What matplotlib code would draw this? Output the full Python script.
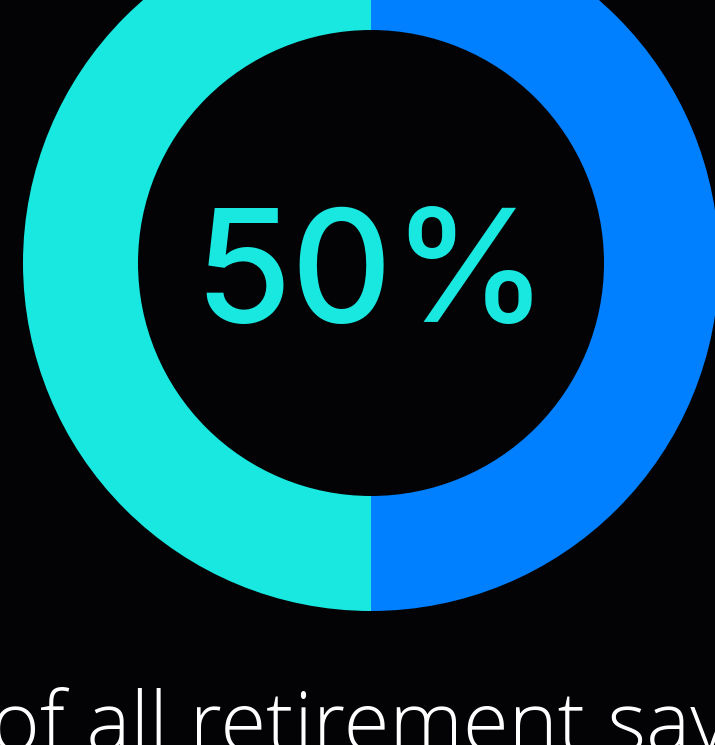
import matplotlib
matplotlib.use("Agg")
import matplotlib.pyplot as plt

# donut shares (right half first, clockwise from top)
labels = ["Other", "Share"]
values = [50, 50]
colors = ["#0080FF", "#19E8E0"]
center_label = "50%"
caption = "of all retirement savings"

W, H = 715, 745
fig = plt.figure(figsize=(W / 100, H / 100), dpi=100, facecolor="#030306")
ax = fig.add_axes([0, 0, 1, 1])
ax.set_facecolor("#030306")

cx, cy = 371, H - 263
ax.pie(values, colors=colors, startangle=90, counterclock=False,
       center=(cx, cy), radius=348,
       wedgeprops=dict(width=115, linewidth=0))
ax.set_xlim(0, W)
ax.set_ylim(0, H)
ax.set_aspect("auto")
ax.axis("off")

ax.text(cx, H - 322, center_label, ha="center", va="baseline", color="#19E8E0",
        fontsize=113, family="Inter", fontweight="medium")

fig.text(-0.012, -0.008, caption, ha="left", va="baseline", color="white",
         fontsize=60, family="Open Sans", fontweight="light")

fig.savefig("out.png", facecolor=fig.get_facecolor())
